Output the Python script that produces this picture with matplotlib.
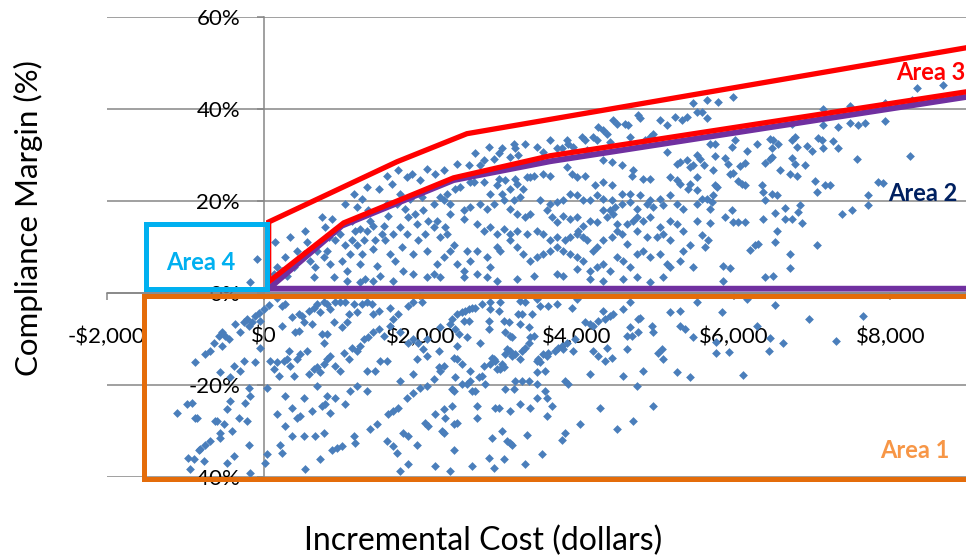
import numpy as np
import matplotlib
matplotlib.use("Agg")
import matplotlib.pyplot as plt
from matplotlib.ticker import FuncFormatter, MultipleLocator

# Scenario results: (incremental cost in $, compliance margin in %)
below_left = [
    (-64, -4.2), (0, -3.4), (63, -2.5), (170, -1.1), (233, -2.7), (276, -2.3), (446, -4.5), (488, -4.9),
    (573, -3.8), (637, -3.1), (680, -2.3), (722, -4.15), (765, -2.0), (807, -2.3), (850, -3.4), (913, -2.0),
    (977, -2.0), (1041, -2.0), (1083, -4.5), (1147, -2.3), (1190, -4.15), (1253, -2.3), (1317, -2.0),
    (1381, -2.3), (1402, -4.5), (1466, -3.8), (1615, -3.1), (1721, -4.5), (1848, -2.7), (1912, -2.0), (2018, -2.0),
    (-638, -10.7), (-574, -9.2), (-532, -8.5), (-489, -9.2), (-447, -10.0), (-362, -6.7), (-298, -8.5),
    (-255, -6.3), (-213, -5.6), (-192, -7.1), (-149, -6.3), (-115, -4.9), (-43, -6.0), (233, -7.1), (361, -5.2),
    (403, -8.5), (446, -8.1), (510, -6.3), (616, -6.7), (743, -8.9), (765, -10.7), (807, -8.9), (892, -6.3),
    (998, -7.4), (1062, -6.3), (1275, -10.0), (1338, -9.6), (1402, -8.5), (1466, -7.8), (1530, -9.2),
    (1615, -7.1), (1657, -5.6), (1742, -8.5), (1848, -10.7), (1912, -10.0), (1976, -10.7), (2082, -10.0),
    (-872, -15.0), (-744, -13.2), (-680, -12.5), (-532, -11.4), (-255, -14.7), (-298, -16.9), (-383, -15.8),
    (-425, -18.3), (-553, -17.2), (-107, -15.0), (-43, -11.8), (85, -14.7), (127, -16.5), (170, -15.0),
    (191, -18.0), (255, -14.7), (297, -14.3), (318, -12.5), (340, -15.8), (382, -18.0), (425, -14.3),
    (467, -13.2), (552, -12.5), (573, -17.6), (637, -16.5), (680, -16.1), (722, -17.2), (765, -15.4),
    (807, -14.3), (850, -13.6), (913, -15.8), (977, -16.9), (1020, -12.9), (1083, -14.3), (1126, -11.8),
    (1190, -12.5), (1232, -11.4), (1317, -16.9), (1423, -16.9), (1487, -14.7), (1572, -14.7), (1742, -19.0),
    (1912, -17.6), (1955, -14.3), (2040, -12.1), (2082, -13.6),
    (-192, -20.5), (-170, -22.3), (-234, -23.8), (-425, -23.4), (-468, -25.2), (-978, -24.1), (-914, -23.8),
    (-1105, -26.1), (-872, -27.0), (-617, -27.8), (-510, -28.5), (-319, -27.0), (-213, -27.8), (42, -20.5),
    (276, -22.3), (361, -24.9), (170, -26.3), (425, -27.0), (467, -26.7), (510, -22.7), (616, -25.6),
    (680, -20.1), (743, -24.5), (786, -24.1), (807, -22.3), (850, -26.0), (913, -22.7), (1041, -24.1),
    (1105, -21.2), (1190, -20.1), (1317, -21.2), (1593, -26.3), (1657, -25.6), (1721, -24.9), (1827, -22.7),
    (1912, -21.6), (1997, -20.5), (2082, -20.1), (2061, -28.1), (2103, -28.9),
    (-404, -30.0), (-553, -30.3), (-680, -32.1), (-744, -32.9), (-829, -34.0), (-893, -36.1), (-936, -38.3),
    (-766, -36.5), (-553, -31.4), (-468, -36.9), (-383, -35.4), (-192, -32.9), (-170, -39.0), (42, -35.0),
    (21, -36.9), (276, -28.9), (361, -31.0), (212, -32.9), (233, -34.7), (510, -31.0), (658, -31.0),
    (765, -30.3), (871, -34.0), (935, -33.6), (998, -33.2), (722, -36.1), (531, -38.3), (1147, -31.0),
    (1168, -32.5), (1360, -29.6), (1445, -28.5), (1572, -32.1), (1657, -33.2), (1700, -34.7), (1785, -30.3),
    (1848, -31.0), (1955, -32.9), (1848, -37.2), (1742, -38.7),
    (-960, -35.7), (-808, -33.9), (-850, -27.0), (-595, -27.8),
]

below_mid = [
    (2786, -2.3), (2892, -2.0), (3020, -2.0), (3275, -1.6), (3338, -2.0), (3487, -1.2), (3530, -2.7),
    (3636, -2.7), (3742, -2.3), (3933, -3.1), (3997, -1.2), (4337, -3.8), (4465, -4.5), (4592, -3.4),
    (4677, -2.0), (4783, -5.6), (5187, -4.15), (5315, -3.8), (5485, -9.6), (5315, -7.1), (5378, -7.8),
    (2467, -4.5), (2531, -4.15), (2573, -3.8), (2616, -3.4), (2658, -3.1), (2700, -3.1), (2403, -5.6),
    (2382, -6.7), (2446, -7.8), (2488, -8.9), (2552, -6.0), (2616, -6.0), (2892, -3.4), (2998, -3.8),
    (2871, -6.0), (2871, -7.8), (3062, -6.0), (3126, -6.3), (3253, -4.5), (3296, -4.5), (3381, -7.4),
    (3423, -4.5), (3402, -9.6), (3275, -6.7), (3083, -8.5), (3147, -9.2), (3168, -9.6), (2765, -10.7),
    (2595, -9.6), (2255, -7.4), (2233, -12.5), (2467, -11.4), (4210, -7.1), (4273, -6.0), (4358, -5.6),
    (4422, -4.9), (4103, -6.3), (4167, -6.7), (3976, -10.0), (3955, -12.5), (3806, -11.4), (3827, -12.1),
    (3763, -11.8), (3721, -12.5), (3870, -10.7), (3636, -12.9), (3615, -13.6), (3572, -13.2), (3508, -14.3),
    (3487, -14.7), (3530, -15.0), (3445, -9.2), (4677, -7.4), (4635, -9.2), (4698, -9.2), (4783, -8.5),
    (4975, -8.5), (4953, -7.1), (4635, -12.1), (4210, -12.5), (4273, -13.6), (4380, -11.8), (4443, -14.0),
    (4358, -14.7), (4847, -16.9), (5038, -12.9), (5081, -12.1), (5102, -14.3), (5272, -17.2), (5442, -18.3),
    (4798, -5.45), (5538, -2.0),
    (2425, -14.0), (2467, -14.3), (2531, -15.4), (2233, -16.1), (2297, -15.8), (2255, -16.9), (2170, -18.7),
    (2446, -18.3), (2403, -20.9), (2425, -21.2), (2531, -19.8), (2637, -19.0), (2595, -19.8), (2658, -21.2),
    (2700, -21.2), (2637, -16.9), (2743, -18.3), (2786, -18.0), (2828, -19.8), (2807, -15.8), (2892, -15.4),
    (2913, -14.0), (2935, -14.3), (2956, -14.7), (2977, -16.5), (3020, -16.5), (3041, -15.4), (3062, -16.1),
    (3083, -13.2), (3105, -12.1), (3147, -12.5), (3168, -13.6), (3211, -13.2), (3275, -14.3), (3296, -12.5),
    (3338, -11.8), (3381, -10.7), (3296, -19.0), (3381, -19.0), (3211, -19.0), (3083, -20.9), (3190, -20.9),
    (3487, -19.8), (3593, -16.9), (3487, -17.2), (3593, -21.2), (3615, -22.7), (3678, -24.5), (3487, -22.7),
    (3402, -24.9), (3275, -24.1), (3147, -25.6), (2956, -24.9), (2998, -24.9), (2722, -24.5), (2722, -27.0),
    (2297, -25.2), (2318, -27.0), (2191, -26.3), (2403, -24.5), (4167, -17.6), (3848, -19.0), (3891, -19.8),
    (4592, -18.0), (4762, -20.1), (4295, -24.9), (4975, -24.4), (3615, -26.7),
    (2276, -30.0), (2297, -30.3), (2425, -28.5), (2467, -28.1), (2913, -31.4), (3041, -30.0), (3105, -32.1),
    (3147, -32.5), (3168, -32.9), (3360, -30.7), (3848, -30.3), (3806, -31.8), (4040, -28.5), (4507, -29.6),
    (4720, -27.8), (2425, -34.0), (2191, -37.6), (2382, -38.7), (2658, -37.6), (2871, -35.8), (2935, -37.9),
    (3062, -36.1), (3338, -37.2), (3551, -35.0),
]

below_right = [
    (5848, -4.15), (6167, -1.2), (6528, -2.55), (6295, -7.1), (6465, -9.8), (6626, -10.8), (6456, -12.5),
    (5776, -10.5), (5776, -12.9), (5946, -12.7), (6116, -17.8), (6966, -5.5), (7306, -10.3), (7646, -4.9),
]

above_left = [
    (-85, 7.5), (-170, 2.4),
    (148, 11.1), (276, 7.8), (170, 5.65), (127, 4.2), (233, 4.9), (340, 12.2), (425, 9.3), (531, 13.6),
    (552, 11.1), (595, 7.1), (637, 3.5), (658, 5.65), (743, 16.5), (765, 7.8), (807, 9.3), (850, 6.4),
    (892, 3.5), (871, 16.2), (913, 11.5), (977, 12.9), (998, 7.1), (1041, 10.4), (1062, 4.9), (1105, 8.55),
    (1126, 11.5), (1147, 21.6), (1168, 13.6), (1190, 10.4), (1232, 14.0), (1232, 6.4), (1253, 8.55),
    (1275, 11.5), (1296, 3.1), (1317, 23.1), (1317, 13.6), (1338, 18.0), (1360, 15.8), (1402, 14.7),
    (1402, 9.6), (1423, 11.5), (1445, 6.0), (1466, 22.7), (1487, 3.8), (1508, 12.9), (1530, 14.7),
    (1551, 11.5), (1572, 25.6), (1572, 19.5), (1593, 16.9), (1615, 8.55), (1636, 23.8), (1657, 12.9),
    (1678, 7.1), (1700, 19.5), (1721, 26.7), (1742, 21.6), (1742, 14.4), (1763, 10.0), (1785, 4.9),
    (1806, 18.4), (1827, 25.3), (1827, 12.9), (1848, 16.5), (1870, 20.5), (1891, 26.0), (1912, 8.55),
    (1933, 17.3), (1955, 15.1), (1976, 11.5), (1997, 24.6), (2018, 20.9), (2040, 18.0), (2061, 12.9),
    (2082, 27.1), (2082, 9.3), (2103, 15.8), (1041, 19.5), (1190, 18.7), (1253, 20.5), (1126, 15.8),
    (892, 13.6), (786, 14.4), (828, 12.2), (680, 9.3), (510, 8.55), (382, 5.65), (297, 3.8), (1062, 2.7),
    (1232, 2.4), (1402, 2.7), (1657, 2.7), (1912, 4.2), (2082, 3.5),
]

above_mid = [
    (2191, 26.0), (2297, 26.9), (2467, 28.2), (2616, 27.8), (2701, 30.4), (2765, 27.8), (2807, 28.9),
    (2871, 31.8), (2935, 29.3), (2998, 30.4), (3041, 31.5), (3147, 29.6), (3190, 32.5), (3211, 31.5),
    (3338, 32.5), (3253, 30.0), (3487, 31.8), (3657, 33.3), (3742, 31.5), (3870, 33.3), (3891, 32.5),
    (3955, 31.8), (4061, 34.0), (4103, 33.3), (4210, 34.0), (4252, 33.3), (4273, 36.2), (4337, 35.5),
    (4380, 34.7), (4465, 37.6), (4507, 36.9), (4613, 36.9), (4656, 36.5), (4677, 34.0), (4805, 38.0),
    (4868, 33.3), (4932, 34.0), (4975, 34.7), (5060, 37.6), (5145, 36.5), (5251, 38.4), (5336, 37.6),
    (5400, 38.4), (5485, 41.3), (5527, 39.5), (4125, 31.1), (3806, 31.5), (3572, 30.7), (4422, 32.9),
    (4783, 38.7),
    (5145, 30.7), (5272, 28.2), (5315, 28.5), (5400, 28.9), (5442, 27.5), (5485, 27.8), (5527, 30.0),
    (4337, 28.9), (4443, 28.5), (4571, 27.8), (4720, 26.7), (4698, 25.6), (4847, 24.9), (4932, 24.9),
    (5187, 25.3), (5272, 24.6), (5315, 23.8), (5442, 23.8), (5527, 25.3), (3572, 26.0), (3657, 25.6),
    (3870, 27.5), (3933, 26.0), (3997, 25.3), (4103, 25.6), (4231, 23.5), (4337, 24.2), (4443, 23.5),
    (4571, 21.6), (4677, 21.6), (4805, 21.3), (4932, 20.2), (5060, 20.5), (5187, 21.3), (5421, 22.7),
    (5527, 22.4), (2998, 24.9), (3083, 24.6), (3211, 24.9), (3402, 25.3), (3445, 25.6), (2807, 24.2),
    (2680, 24.2), (2637, 24.2), (2510, 23.1), (2446, 22.7), (2340, 21.6), (2255, 20.9), (2170, 19.5),
    (2297, 20.2), (2382, 19.5), (2977, 23.5), (2892, 21.6), (3041, 21.6), (3147, 22.7), (3232, 23.8),
    (3317, 22.7), (3360, 25.3), (2765, 19.5), (2850, 18.4), (2935, 19.5), (2637, 18.7), (2552, 18.0),
    (2552, 16.2), (2382, 17.3), (2212, 15.8), (2318, 14.4), (2255, 12.2), (2170, 14.4), (3062, 20.2),
    (3190, 20.2), (3275, 20.9), (3530, 20.2), (3657, 19.5), (3742, 19.8), (3827, 20.2), (3912, 21.6),
    (3997, 21.3), (4082, 20.2), (4167, 20.2), (4252, 21.3), (4337, 20.5), (4443, 20.2), (4486, 18.7),
    (4422, 18.0), (4571, 19.5), (4677, 19.8), (4762, 18.4), (4890, 19.5), (4975, 18.7), (5102, 19.1),
    (5272, 19.5), (5357, 18.4), (5527, 19.5), (3147, 18.4), (3232, 17.3), (3338, 16.5), (3402, 17.3),
    (3615, 18.0), (3678, 16.5), (3742, 15.5), (3827, 16.9), (3912, 16.2), (3997, 16.5), (4082, 14.7),
    (4167, 15.8), (4252, 15.5), (4337, 18.0), (4380, 16.5), (4465, 17.3), (4507, 15.1), (4635, 15.1),
    (4720, 15.8), (4762, 16.5), (4847, 15.8), (4932, 16.5), (5060, 14.4), (5187, 15.8), (5272, 15.1),
    (5357, 13.6), (5527, 15.8), (2722, 15.1), (2807, 13.6), (2892, 14.4), (2977, 12.9), (3062, 14.0),
    (3147, 12.9), (3232, 13.6), (3360, 12.9), (3487, 13.6), (3572, 12.9), (3657, 11.5), (3742, 12.2),
    (3848, 11.5), (3912, 12.2), (3997, 12.9), (4018, 13.6), (4082, 12.2), (4125, 11.5), (4210, 9.3),
    (4252, 10.0), (4337, 11.5), (4443, 12.2), (4507, 13.6), (4571, 12.9), (4635, 10.7), (4762, 13.6),
    (4890, 12.2), (5017, 12.2), (5102, 12.9), (5187, 11.5), (5357, 9.3), (5442, 10.4), (2340, 12.9),
    (2425, 10.4), (2382, 9.3), (2297, 7.8), (2212, 6.4), (2170, 4.2), (2255, 3.5), (2467, 6.4),
    (2552, 4.9), (2637, 7.1), (2595, 9.3), (2722, 9.3), (2850, 7.8), (2892, 5.65), (2977, 10.0),
    (3020, 9.3), (3147, 11.5), (3232, 10.0), (3317, 8.55), (3402, 7.1), (3487, 7.8), (3572, 8.55),
    (3657, 9.3), (3742, 10.0), (3827, 9.3), (3912, 8.55), (3997, 7.8), (4082, 7.1), (4167, 4.9),
    (4252, 5.65), (4337, 6.4), (4422, 4.9), (4507, 7.8), (4592, 7.1), (4677, 5.65), (4762, 8.55),
    (4847, 9.3), (4932, 7.8), (5060, 8.55), (5145, 6.4), (5187, 5.65), (5315, 7.1), (5485, 5.65),
    (2552, 3.5), (2722, 4.2), (2850, 3.5), (2977, 2.7), (3232, 3.1), (3445, 3.8), (3742, 4.2),
    (3827, 3.8), (3997, 5.3), (4167, 3.1), (4337, 2.7), (4592, 3.1), (4762, 3.5), (4932, 2.4), (5102, 3.5),
]

above_right = [
    (5657, 42.0), (5806, 41.6), (5989, 42.7), (5593, 39.4), (5657, 38.1), (7145, 40.0), (7485, 40.8),
    (7931, 41.3), (8271, 42.0), (8335, 44.7), (8666, 45.3),
    (6741, 36.7), (7145, 36.5), (7336, 36.2), (7485, 37.1), (7591, 36.5), (7676, 37.1), (7931, 37.4),
    (5700, 32.5), (5763, 32.5), (5976, 31.8), (6018, 33.3), (6167, 30.9), (6295, 32.5), (6465, 33.5),
    (6507, 33.3), (6571, 32.5), (6486, 31.6), (6741, 33.3), (6783, 34.0), (6805, 31.8), (6932, 32.0),
    (6996, 30.9), (7081, 33.8), (7123, 33.3), (7145, 31.5), (7272, 33.1), (7336, 31.6), (7570, 29.3),
    (8250, 29.9), (5572, 29.3), (5615, 27.8), (5763, 29.9), (5742, 26.7), (5891, 29.4), (5933, 28.0),
    (6082, 27.7), (6146, 28.4), (5955, 26.0), (5997, 26.2), (6061, 24.5), (6103, 23.8), (6146, 23.6),
    (6401, 28.4), (6465, 29.3), (6486, 29.6), (6592, 26.7), (6720, 26.0), (6741, 29.4), (6783, 28.0),
    (6805, 25.6), (6911, 27.8), (7038, 24.5), (7166, 23.5), (7230, 23.5), (7060, 22.0), (6358, 23.5),
    (6380, 22.0), (6401, 20.2), (6486, 21.6), (6550, 21.3), (5593, 20.5), (5657, 20.5), (5721, 19.8),
    (5742, 21.3), (5700, 18.4), (5763, 23.5), (5785, 23.1), (7846, 24.2), (7910, 24.0), (7718, 21.4),
    (7718, 19.1), (7506, 18.2), (7378, 17.3), (6847, 19.2), (6826, 17.6), (6656, 18.5), (6656, 16.2),
    (6741, 16.2), (6868, 15.3), (6528, 17.5), (6371, 16.2), (5976, 18.0), (5891, 16.5), (5997, 15.6),
    (6061, 15.6), (6146, 15.6), (5700, 15.3), (5593, 12.7), (5678, 11.5), (5636, 10.0), (6550, 13.6),
    (6528, 11.1), (6316, 10.7), (6273, 10.4), (6210, 9.5), (7060, 10.5), (6720, 8.55), (6720, 5.4),
    (5870, 5.9), (5955, 5.4), (5870, 2.7), (6401, 3.5), (6507, 3.8),
]

# Boundary outlines drawn over the cloud (cost $, margin %)
area3_x = [10000, 2595, 1702, 64, 64, 1021, 2424, 3658, 10000]
area3_y = [56.4, 34.7, 28.6, 15.5, 2.5, 15.3, 25.1, 29.9, 46.5]
area2_x = [10000, 3658, 2424, 1000, 64, 10000]
area2_y = [45.4, 28.7, 24.6, 14.7, 1.0, 1.0]
area4_x = [-1500, 43, 43, -1500, -1500]
area4_y = [0.9, 0.9, 15.1, 15.1, 0.9]
area1_x = [10000, -1531, -1531, 10000]
area1_y = [-0.5, -0.5, -40.3, -40.3]

BLUE = "#4A7EBB"
GRID = "#868686"
FONT = ["Lato", "DejaVu Sans"]

pts = np.array(below_left + below_mid + below_right + above_left + above_mid + above_right)
cost, margin = pts[:, 0], pts[:, 1]

fig = plt.figure(figsize=(9.66, 5.59), dpi=100)
ax = fig.add_axes([107 / 966, 81.7 / 559, 859 / 966, 460 / 559])
ax.set_xlim(-2000, 8966)
ax.set_ylim(-40, 60)

for s in ("top", "right"):
    ax.spines[s].set_visible(False)
ax.spines["left"].set_position(("data", 0))
ax.spines["bottom"].set_position(("data", 0))
for s in ("left", "bottom"):
    ax.spines[s].set_color(GRID)
    ax.spines[s].set_linewidth(1.1)

ax.xaxis.set_major_locator(MultipleLocator(2000))
ax.yaxis.set_major_locator(MultipleLocator(20))
ax.xaxis.set_major_formatter(FuncFormatter(
    lambda v, _: ("-$" if v < 0 else "$") + f"{abs(v):,.0f}"))
ax.yaxis.set_major_formatter(FuncFormatter(lambda v, _: f"{v:.0f}%"))
ax.tick_params(axis="x", direction="out", length=5, width=1.1, color=GRID, pad=19,
               labelsize=16, labelcolor="black")
ax.tick_params(axis="y", direction="out", length=5, width=1.1, color=GRID, pad=12,
               labelsize=16, labelcolor="black")
for lab in ax.get_xticklabels() + ax.get_yticklabels():
    lab.set_family(FONT)
ax.grid(axis="y", color=GRID, linewidth=1.1)
ax.set_axisbelow(True)

ax.scatter(cost, margin, marker="D", s=20, color=BLUE, linewidths=0, zorder=3)

ax.plot(area1_x, area1_y, color="#E46C0A", lw=3.6, zorder=4, clip_on=False,
        solid_joinstyle="miter")
ax.plot(area2_x, area2_y, color="#7030A0", lw=4.2, zorder=5, clip_on=False)
ax.plot(area3_x, area3_y, color="#FF0000", lw=3.8, zorder=6, clip_on=False,
        solid_joinstyle="miter")
ax.plot(area4_x, area4_y, color="#00B0F0", lw=3.6, zorder=6, clip_on=False,
        solid_joinstyle="miter")

lbl = dict(fontsize=17, fontweight="bold", family=FONT, va="center", zorder=7)
ax.text(8953, 48.0, "Area 3", color="#FF0000", ha="right", **lbl)
ax.text(8852, 21.8, "Area 2", color="#002060", ha="right", **lbl)
ax.text(-801, 6.8, "Area 4", color="#00B0F0", ha="center", **lbl)
ax.text(8749, -34.1, "Area 1", color="#F79646", ha="right", **lbl)

fig.text(483 / 966, 1 - 541 / 559, "Incremental Cost (dollars)", ha="center", va="center",
         fontsize=23, family=FONT)
fig.text(28 / 966, 1 - 218 / 559, "Compliance Margin (%)", ha="center", va="center",
         rotation=90, fontsize=22.5, family=FONT)

fig.savefig("out.png", dpi=100)
